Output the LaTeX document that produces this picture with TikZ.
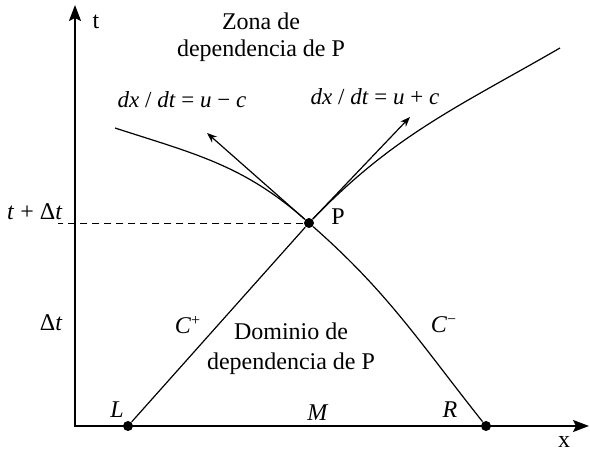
\documentclass[tikz,border=0pt]{standalone}
\usepackage{fontspec}
\setmainfont{Liberation Serif}
\usetikzlibrary{arrows.meta}
\begin{document}
\begin{tikzpicture}[x=0.5pt, y=0.5pt, line width=0.6pt, >={Stealth[length=5pt,width=3.8pt]},
  dot/.style={circle, fill, inner sep=0pt, minimum size=5pt},
  lbl/.style={font=\fontsize{12}{13.5}\selectfont, inner sep=1pt, align=center},
  axis/.style={line width=1pt, {Stealth[length=8pt,width=6pt,inset=1.5pt]}-{Stealth[length=8pt,width=6pt,inset=1.5pt]}}]
\useasboundingbox (0,0) rectangle (590,450);
\coordinate (O) at (75,24);
\coordinate (tend) at (75,445);
\coordinate (xend) at (589,24);
\draw[axis] (tend) -- (O) -- (xend);
\node[dot] (L) at (128,24) {};
\node[dot] (R) at (486,24) {};
\node[dot] (P) at (309,227) {};
\coordinate (lend) at (115,322);
\coordinate (rend) at (560,402);
\coordinate (ul) at (207,317);
\coordinate (ur) at (410,333);
\coordinate (dl) at (58,227);
% characteristics through P
\draw (L) -- (P);
\draw (P) to[out=46, in=210] (rend);
\draw (R) to[out=128.5, in=-41.4] (P);
\draw (P) to[out=138.6, in=-18] (lend);
\draw[->] (P) -- (ul);
\draw[->] (P) -- (ur);
\draw[line width=0.4pt, dash pattern=on 3.5pt off 2.5pt] (P) -- (dl);
% labels
\node[lbl] (lt) at (96,428) {t};
\node[lbl] (lx) at (564,8) {x};
\node[lbl] (zona) at (261,413) {Zona de\\dependencia de P};
\node[lbl, font=\fontsize{12}{15}\selectfont] (dom) at (291,101) {Dominio de\\dependencia de P};
\node[lbl, font=\fontsize{11.5}{13.5}\selectfont] (eqm) at (182,350) {\textit{dx} / \textit{dt} = \textit{u} − \textit{c}};
\node[lbl, font=\fontsize{11.5}{13.5}\selectfont] (eqp) at (375,353) {\textit{dx} / \textit{dt} = \textit{u} + \textit{c}};
\node[lbl] (lP) at (338,233) {P};
\node[lbl, anchor=base east] (tdt) at (65,230) {\textit{t} + Δ\textit{t}};
\node[lbl, anchor=east] (dt) at (65,127) {Δ\textit{t}};
\node[lbl] (cp) at (188,125) {\textit{C}\textsuperscript{+}};
\node[lbl] (cm) at (444,125) {\textit{C}\textsuperscript{−}};
\node[lbl] (lL) at (117,40) {\textit{L}};
\node[lbl] (lM) at (318,37) {\textit{M}};
\node[lbl] (lR) at (450,40) {\textit{R}};
\end{tikzpicture}
\end{document}
